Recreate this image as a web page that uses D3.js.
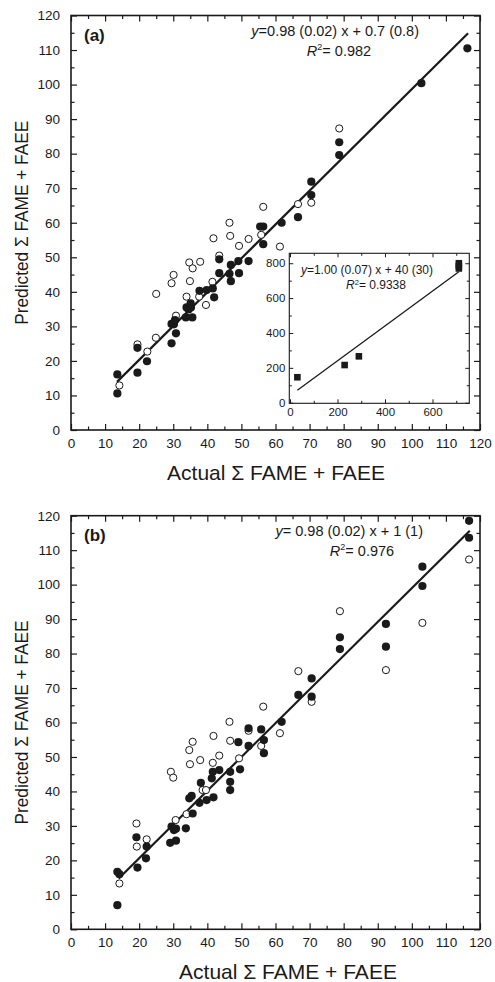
<!DOCTYPE html>
<html>
<head>
<meta charset="utf-8">
<script src="https://cdn.jsdelivr.net/npm/d3@7"></script>
<style>
  body { margin: 0; background: #fff; }
  svg { display: block; font-family: Arial, "Liberation Sans", sans-serif; }
</style>
</head>
<body>
<svg id="chart" width="495" height="982"></svg>
<script>
// ---- data ----
var majorTicks = [0, 10, 20, 30, 40, 50, 60, 70, 80, 90, 100, 110, 120];

var aFilled = [[13.6,16.1],[13.6,10.6],[19.5,16.6],[19.5,23.8],[22.3,19.9],[29.5,25.1],[29.5,30.7],[30.2,30.6],
  [30.5,31.8],[30.8,28.0],[33.7,32.6],[33.9,35.5],[34.5,34.9],[35.1,36.7],[35.6,32.6],[35.2,35.5],[37.7,40.3],
  [39.8,40.5],[41.6,41.0],[42.0,38.4],[43.5,45.4],[43.5,49.4],[46.5,45.2],[46.9,43.1],[46.9,47.8],[49.1,48.9],
  [49.3,45.4],[52.1,48.9],[55.5,58.9],[56.4,58.9],[56.4,53.8],[61.8,60.0],[66.6,61.6],[70.5,71.9],[70.5,68.0],
  [78.7,83.3],[78.7,79.6],[102.8,100.4],[116.3,110.5]];
var aOpen = [[14.2,12.9],[19.5,24.8],[22.4,22.7],[24.9,26.7],[25.0,39.4],[29.5,42.5],[30.1,44.9],[30.8,33.1],
  [33.9,38.6],[34.7,48.5],[34.9,43.1],[35.7,46.8],[37.6,38.6],[37.9,48.7],[39.6,36.2],[41.5,42.9],[41.8,55.5],
  [43.5,50.5],[46.5,60.0],[46.7,56.2],[49.3,53.3],[52.1,55.3],[55.8,56.5],[56.4,64.6],[61.3,53.1],[66.6,65.4],
  [70.5,65.8],[78.7,87.3]];
var aFit = {slope: 0.98, intercept: 0.7, from: 13.5, to: 116.5};

var bFilled = [[13.6,7.0],[13.6,16.7],[14.2,16.0],[19.5,17.9],[19.2,26.7],[22.0,20.6],[22.2,24.0],[29.1,25.1],
  [29.5,29.8],[30.2,28.8],[30.8,25.7],[30.8,29.2],[33.7,29.3],[34.7,38.0],[35.4,38.7],[35.7,33.6],[37.7,36.7],
  [38.1,42.5],[39.8,37.5],[41.3,43.8],[41.6,45.7],[41.8,38.3],[43.5,46.2],[46.7,40.4],[46.7,42.8],[46.7,45.7],
  [49.1,54.3],[49.6,46.4],[52.1,53.2],[52.1,58.3],[55.8,58.0],[56.6,54.9],[56.6,51.1],[61.8,60.2],[66.7,68.0],
  [70.6,72.8],[70.6,67.5],[78.9,84.7],[78.9,81.3],[92.4,88.6],[92.4,82.0],[103.1,105.2],[103.1,99.6],
  [116.8,118.5],[116.8,113.6]];
var bOpen = [[14.2,13.3],[19.2,30.7],[19.3,24.0],[22.2,26.1],[29.3,45.7],[30.0,44.0],[30.7,31.7],[33.9,33.4],
  [34.7,52.0],[34.9,47.9],[35.7,54.4],[37.9,49.1],[38.6,40.4],[39.6,40.4],[41.6,48.3],[41.8,56.1],[43.5,50.4],
  [46.5,60.2],[46.7,54.7],[49.3,49.6],[52.1,57.6],[55.8,53.2],[56.4,64.6],[61.3,56.9],[66.7,74.9],[70.6,66.0],
  [78.9,92.3],[92.4,75.2],[103.1,88.9],[116.8,107.3]];
var bFit = {slope: 0.98, intercept: 1, from: 14, to: 117};

var insetPoints = [[31,146],[230,216],[290,266],[711,770],[711,785],[711,800]];
var insetFit = {slope: 1.00, intercept: 40, from: 31, to: 711};
var insetXTicks = [0, 200, 400, 600];
var insetYTicks = [0, 200, 400, 600, 800];

var ink = "#1a1a1a";
var svg = d3.select("#chart");

// inward ticks on all four sides of a box, labels only bottom/left
var frameTicks = function(g, x, y, opts) {
    var x0 = x.range()[0], x1 = x.range()[1];
    var y0 = y.range()[0], y1 = y.range()[1];
    var sides = [
        [d3.axisBottom, x, "translate(0," + y0 + ")", opts.xMajor, opts.xMinor, opts.padX],
        [d3.axisTop, x, "translate(0," + y1 + ")", opts.xMajor, opts.xMinor, null],
        [d3.axisLeft, y, "translate(" + x0 + ",0)", opts.yMajor, opts.yMinor, opts.padY],
        [d3.axisRight, y, "translate(" + x1 + ",0)", opts.yMajor, opts.yMinor, null]
    ];
    sides.forEach(function(s) {
        var gMinor = g.append("g").attr("transform", s[2])
            .call(s[0](s[1]).tickValues(s[4]).tickSizeInner(-opts.minorLen).tickSizeOuter(0).tickFormat(""));
        gMinor.select(".domain").remove();

        var ax = s[0](s[1]).tickValues(s[3]).tickSizeInner(-opts.majorLen).tickSizeOuter(0);
        if (s[5] === null) ax.tickFormat("");
        else ax.tickPadding(s[5]);
        var gMajor = g.append("g").attr("transform", s[2]).call(ax);
        gMajor.select(".domain").remove();
        gMajor.selectAll("text").attr("font-size", opts.fontSize).attr("fill", ink)
            .attr("font-family", "Arial, 'Liberation Sans', sans-serif");
    });
    g.selectAll(".tick line").attr("stroke", ink).attr("stroke-width", opts.tickWidth);
    g.append("rect")
        .attr("x", x0).attr("y", y1)
        .attr("width", x1 - x0).attr("height", y0 - y1)
        .attr("fill", "none").attr("stroke", ink).attr("stroke-width", opts.frameWidth);
};

var drawPanel = function(top, bottom, filled, open, fit, label, eq, r2, eqPos, titleX) {
    var x = d3.scaleLinear().domain([0, 120]).range([71, 480]);
    var y = d3.scaleLinear().domain([0, 120]).range([bottom, top]);
    var g = svg.append("g");

    g.append("line")
        .attr("x1", x(fit.from)).attr("y1", y(fit.slope * fit.from + fit.intercept))
        .attr("x2", x(fit.to)).attr("y2", y(fit.slope * fit.to + fit.intercept))
        .attr("stroke", ink).attr("stroke-width", 2.2);

    g.selectAll(".open").data(open).enter().append("circle")
        .attr("cx", function(d) { return x(d[0]); })
        .attr("cy", function(d) { return y(d[1]); })
        .attr("r", 3.6)
        .attr("fill", "#fff").attr("stroke", ink).attr("stroke-width", 1);

    g.selectAll(".filled").data(filled).enter().append("circle")
        .attr("cx", function(d) { return x(d[0]); })
        .attr("cy", function(d) { return y(d[1]); })
        .attr("r", 4.1)
        .attr("fill", ink);

    frameTicks(g, x, y, {
        xMajor: majorTicks, xMinor: d3.range(5, 120, 10),
        yMajor: majorTicks, yMinor: d3.range(5, 120, 10),
        majorLen: 6, minorLen: 3.5, padX: 8, padY: 11, fontSize: 13.5, tickWidth: 1.2, frameWidth: 1.6
    });

    g.append("text").attr("x", 84).attr("y", top + 25)
        .attr("font-size", 17).attr("font-weight", "bold").attr("fill", ink).text(label);

    var t = g.append("text").attr("x", eqPos[0]).attr("y", top + 20)
        .attr("text-anchor", "end").attr("font-size", 14.5).attr("fill", ink);
    t.append("tspan").attr("font-style", "italic").text("y");
    t.append("tspan").text(eq);

    var t2 = g.append("text").attr("x", eqPos[1]).attr("y", top + 40.5)
        .attr("text-anchor", "middle").attr("font-size", 14.5).attr("fill", ink);
    t2.append("tspan").attr("font-style", "italic").text("R");
    t2.append("tspan").attr("font-size", 9).attr("dy", -6).text("2");
    t2.append("tspan").attr("dy", 6).text(r2);

    g.append("text")
        .attr("x", titleX).attr("y", bottom + 50)
        .attr("text-anchor", "middle").attr("font-size", 21).attr("fill", ink)
        .text("Actual \u03a3 FAME + FAEE");

    g.append("text")
        .attr("transform", "translate(28," + (top + bottom) / 2 + ") rotate(-90)")
        .attr("text-anchor", "middle").attr("font-size", 19).attr("fill", ink)
        .attr("textLength", 204).attr("lengthAdjust", "spacingAndGlyphs")
        .text("Predicted \u03a3 FAME + FAEE");
    return g;
};

drawPanel(15.5, 430, aFilled, aOpen, aFit, "(a)", "=0.98 (0.02) x + 0.7 (0.8)", "= 0.982", [419, 339], 276);
drawPanel(515.7, 929.3, bFilled, bOpen, bFit, "(b)", "= 0.98 (0.02) x + 1 (1)", "= 0.976", [423, 362], 288);

// ---- inset in panel (a) ----
var ix = d3.scaleLinear().domain([-3, 755]).range([289.3, 469.3]);
var iy = d3.scaleLinear().domain([-3.4, 857]).range([403.3, 253.3]);
var ig = svg.append("g");
ig.append("rect").attr("x", 289.3).attr("y", 253.3).attr("width", 180).attr("height", 150).attr("fill", "#fff");
ig.append("line")
    .attr("x1", ix(insetFit.from)).attr("y1", iy(insetFit.slope * insetFit.from + insetFit.intercept))
    .attr("x2", ix(insetFit.to)).attr("y2", iy(insetFit.slope * insetFit.to + insetFit.intercept))
    .attr("stroke", ink).attr("stroke-width", 1.3);
ig.selectAll(".sq").data(insetPoints).enter().append("rect")
    .attr("x", function(d) { return ix(d[0]) - 3.3; })
    .attr("y", function(d) { return iy(d[1]) - 3.3; })
    .attr("width", 6.6).attr("height", 6.6).attr("fill", ink);
frameTicks(ig, ix, iy, {
    xMajor: insetXTicks, xMinor: [100, 300, 500, 700],
    yMajor: insetYTicks, yMinor: [100, 300, 500, 700],
    majorLen: 4, minorLen: 2.5, padX: 5, padY: 4, fontSize: 11.5, tickWidth: 1, frameWidth: 1.1
});
var it = ig.append("text").attr("x", 433).attr("y", 274).attr("text-anchor", "end")
    .attr("font-size", 12).attr("fill", ink);
it.append("tspan").attr("font-style", "italic").text("y");
it.append("tspan").text("=1.00 (0.07) x + 40 (30)");
var it2 = ig.append("text").attr("x", 376).attr("y", 289).attr("text-anchor", "middle")
    .attr("font-size", 12).attr("fill", ink);
it2.append("tspan").attr("font-style", "italic").text("R");
it2.append("tspan").attr("font-size", 7.5).attr("dy", -4.5).text("2");
it2.append("tspan").attr("dy", 4.5).text("= 0.9338");
</script>
</body>
</html>
